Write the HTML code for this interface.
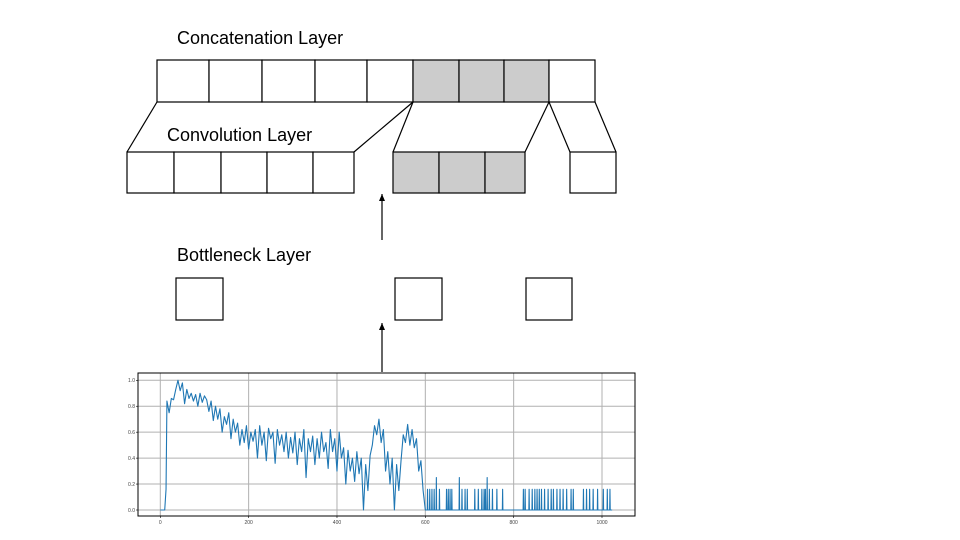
<!DOCTYPE html>
<html><head><meta charset="utf-8"><style>
html,body{margin:0;padding:0;background:#fff;}
svg{display:block;font-family:"Liberation Sans",sans-serif;}
</style></head><body>
<svg width="960" height="540" viewBox="0 0 960 540">
<defs><marker id="ah" markerWidth="7" markerHeight="6" refX="7" refY="3" orient="auto" markerUnits="userSpaceOnUse"><path d="M0,0 L7,3 L0,6 Z" fill="#000"/></marker></defs>
<g><text x="177" y="44" font-size="18">Concatenation Layer</text></g>
<g><text x="167" y="141" font-size="18">Convolution Layer</text></g>
<g><text x="177" y="261" font-size="18">Bottleneck Layer</text></g>
<g id="diag" stroke="#000" stroke-width="1.2" fill="none"></g>
<g id="chart"></g>
</svg>
<script>
const NS='http://www.w3.org/2000/svg';
function mk(p,t,a){const e=document.createElementNS(NS,t);for(const k in a)e.setAttribute(k,a[k]);p.appendChild(e);return e;}
const diag=document.getElementById('diag');
const topEdges=[157,209,262,315,367,413,459,504,549,595];
for(let i=0;i<topEdges.length-1;i++){
 const r=mk(diag,'rect',{x:topEdges[i],y:60,width:topEdges[i+1]-topEdges[i],height:42,fill:(i>=5&&i<=7)?'#cccccc':'#fff'});
 
 
}
const convGroups=[[127,174,221,267,313,354],[393,439,485,525],[570,616]];
convGroups.forEach((g,gi)=>{for(let i=0;i<g.length-1;i++){
 const r=mk(diag,'rect',{x:g[i],y:152,width:g[i+1]-g[i],height:41,fill:gi==1?'#cccccc':'#fff'});
 
 
}});
[[157,102,127,152],[413,102,354,152],[413,102,393,152],[549,102,525,152],[549,102,570,152],[595,102,616,152]].forEach(l=>{
 const e=mk(diag,'line',{x1:l[0],y1:l[1],x2:l[2],y2:l[3]});
 
 
});
[[176,223],[395,442],[526,572]].forEach(b=>{
 const r=mk(diag,'rect',{x:b[0],y:278,width:b[1]-b[0],height:42,fill:'#fff'});
 
 
});
[[382,240,194],[382,372,323]].forEach(a=>{
 const e=mk(diag,'line',{x1:a[0],y1:a[1],x2:a[0],y2:a[2],'marker-end':'url(#ah)'});
 
 
});
</script>
<script>
// chart data
const denseX=[0,5,10,13,15,20,25,30,35,40,45,50,55,60,65,70,75,80,85,90,95,100,105,110,115,120,125,130,135,140,145,150,155,160,165,170,175,180,185,190,195,200,205,210,215,220,225,230,235,240,245,250,255,260,265,270,275,280,285,290,295,300,305,310,315,320,325,330,335,340,345,350,355,360,365,370,375,380,385,390,395,400,405,410,415,420,425,430,435,440,445,450,455,460,465,470,475,480,485,490,495,500,505,510,515,520,525,530,535,540,545,550,555,560,565,570,575,580,585,590,595,600];
const denseY=[0,0,0,0.16,0.84,0.75,0.86,0.85,0.93,1.0,0.92,0.98,0.82,0.93,0.86,0.9,0.84,0.89,0.8,0.9,0.83,0.88,0.85,0.76,0.84,0.69,0.8,0.7,0.78,0.6,0.72,0.66,0.75,0.55,0.7,0.6,0.67,0.5,0.62,0.52,0.65,0.47,0.6,0.53,0.62,0.4,0.65,0.5,0.6,0.38,0.63,0.55,0.6,0.36,0.62,0.5,0.58,0.45,0.6,0.4,0.56,0.44,0.6,0.35,0.55,0.45,0.62,0.25,0.55,0.45,0.57,0.35,0.55,0.4,0.6,0.45,0.52,0.32,0.62,0.45,0.55,0.3,0.6,0.4,0.48,0.2,0.46,0.3,0.4,0.22,0.45,0.28,0.4,0.0,0.35,0.15,0.42,0.5,0.65,0.58,0.7,0.52,0.62,0.3,0.45,0.2,0.4,0.0,0.35,0.15,0.38,0.58,0.52,0.66,0.5,0.62,0.48,0.55,0.3,0.38,0.15,0.0];
const spikeX=[605,610,615,620,625,632,648,652,656,660,677,683,690,695,712,720,728,733,736,740,745,752,762,775,822,826,835,842,848,853,858,863,870,878,885,890,898,905,912,920,930,935,958,965,972,980,990,1003,1012,1018];
const spikeY=[0.16,0.16,0.16,0.16,0.25,0.16,0.16,0.16,0.16,0.16,0.25,0.16,0.16,0.16,0.16,0.16,0.16,0.16,0.16,0.25,0.16,0.16,0.16,0.16,0.16,0.16,0.16,0.16,0.16,0.16,0.16,0.16,0.16,0.16,0.16,0.16,0.16,0.16,0.16,0.16,0.16,0.16,0.16,0.16,0.16,0.16,0.16,0.16,0.16,0.16];
const xTicks=[0,200,400,600,800,1000];
const yTicks=[0.0,0.2,0.4,0.6,0.8,1.0];
const yTickLabels=['0.0','0.2','0.4','0.6','0.8','1.0'];
const endX=1023;

const ch=document.getElementById('chart');
const L=138,R=635,T=373,B=516;
const sx=v=>160.3+v*0.4417;
const sy=v=>510-v*129.7;
const bg=mk(ch,'rect',{x:L,y:T,width:R-L,height:B-T,fill:'#fff'});


xTicks.forEach(t=>{
 const g=mk(ch,'line',{x1:sx(t),x2:sx(t),y1:T,y2:B,stroke:'#b0b0b0','stroke-width':1});
 
 
 mk(ch,'line',{x1:sx(t),x2:sx(t),y1:B,y2:B+2,stroke:'#000','stroke-width':0.6});
 const tx=mk(ch,'text',{x:sx(t),y:B+8,'font-size':5,'text-anchor':'middle',fill:'#444'});
 tx.textContent=t;
 
 
});
yTicks.forEach((t,i)=>{
 const g=mk(ch,'line',{x1:L,x2:R,y1:sy(t),y2:sy(t),stroke:'#b0b0b0','stroke-width':1});
 
 
 mk(ch,'line',{x1:L-2,x2:L,y1:sy(t),y2:sy(t),stroke:'#000','stroke-width':0.6});
 const tx=mk(ch,'text',{x:L-3,y:sy(t)+1.8,'font-size':5,'text-anchor':'end',fill:'#444'});
 tx.textContent=yTickLabels[i];
 
 
});
let pts=denseX.map((x,i)=>[x,denseY[i]]);
spikeX.forEach((x,i)=>{pts.push([x-0.6,0],[x,spikeY[i]],[x+0.6,0]);});
pts.push([endX,0]);
const line=mk(ch,'polyline',{points:pts.map(p=>sx(p[0]).toFixed(2)+','+sy(p[1]).toFixed(2)).join(' '),fill:'none',stroke:'#1f77b4','stroke-width':1.1,'stroke-linejoin':'round'});


const fr=mk(ch,'rect',{x:L,y:T,width:R-L,height:B-T,fill:'none',stroke:'#000','stroke-width':1});


</script>
</body></html>
